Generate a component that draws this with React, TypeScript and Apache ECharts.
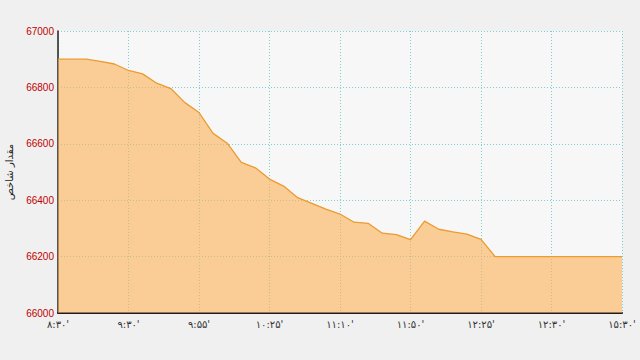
import React, { useEffect, useRef } from "react";
import * as echarts from "echarts";

const tickLabels = ["۸:۳۰'", "۹:۳۰'", "۹:۵۵'", "۱۰:۲۵'", "۱۱:۱۰'", "۱۱:۵۰'", "۱۲:۲۵'", "۱۲:۳۰'", "۱۵:۳۰'"];
const pointsPerTick = 5;
const indexValues = [
  66900, 66900, 66900, 66892, 66883, 66860, 66848, 66815, 66796, 66746,
  66711, 66637, 66602, 66534, 66515, 66475, 66450, 66409, 66389, 66368,
  66351, 66322, 66318, 66283, 66278, 66260, 66326, 66297, 66288, 66280,
  66261, 66200, 66200, 66200, 66200, 66200, 66200, 66200, 66200, 66200,
  66200,
];
const yAxisTitle = "مقدار شاخص";

const categories = indexValues.map((_, i) =>
  i % pointsPerTick === 0 ? tickLabels[i / pointsPerTick] ?? "" : ""
);

export default function App() {
  const ref = useRef<HTMLDivElement>(null);
  useEffect(() => {
    document.body.style.margin = "0";
    document.body.style.background = "#f0f0f0";
    const chart = echarts.init(ref.current!, null, { renderer: "svg" });
    chart.setOption({
      animation: false,
      backgroundColor: "#f0f0f0",
      grid: {
        left: 58,
        right: 18,
        top: 31,
        bottom: 47,
        containLabel: false,
        outerBoundsMode: "none",
        show: true,
        backgroundColor: "#f7f7f7",
        borderWidth: 0,
      },
      xAxis: {
        type: "category",
        data: categories,
        boundaryGap: false,
        axisLine: { lineStyle: { color: "#1a1a2a", width: 2 } },
        axisTick: { show: false },
        axisLabel: {
          interval: (i: number) => i % pointsPerTick === 0,
          color: "#333",
          fontFamily: "DejaVu Sans",
          fontSize: 10,
          margin: 6,
        },
        splitLine: {
          show: true,
          interval: (i: number) => i % pointsPerTick === 0,
          lineStyle: { color: "#7ccfcf", type: [1, 2], width: 1 },
        },
      },
      yAxis: {
        type: "value",
        min: 66000,
        max: 67000,
        interval: 200,
        name: yAxisTitle,
        nameLocation: "middle",
        nameRotate: 90,
        nameGap: 44,
        nameTextStyle: { color: "#222", fontFamily: "DejaVu Sans", fontSize: 10 },
        axisLine: { show: true, lineStyle: { color: "#222", width: 1.5 } },
        axisTick: { show: false },
        axisLabel: {
          color: "#c00000",
          fontFamily: "Liberation Sans",
          fontSize: 10,
          margin: 4,
          formatter: (v: number) => String(v),
        },
        splitLine: {
          show: true,
          lineStyle: { color: "#7ccfcf", type: [1, 2], width: 1 },
        },
      },
      series: [
        {
          type: "line",
          data: indexValues,
          symbol: "none",
          lineStyle: { color: "#eb9b30", width: 1.3 },
          areaStyle: { color: "#fcb155", opacity: 0.6 },
        },
      ],
    });
    return () => chart.dispose();
  }, []);
  return <div ref={ref} style={{ width: 640, height: 360 }} />;
}
